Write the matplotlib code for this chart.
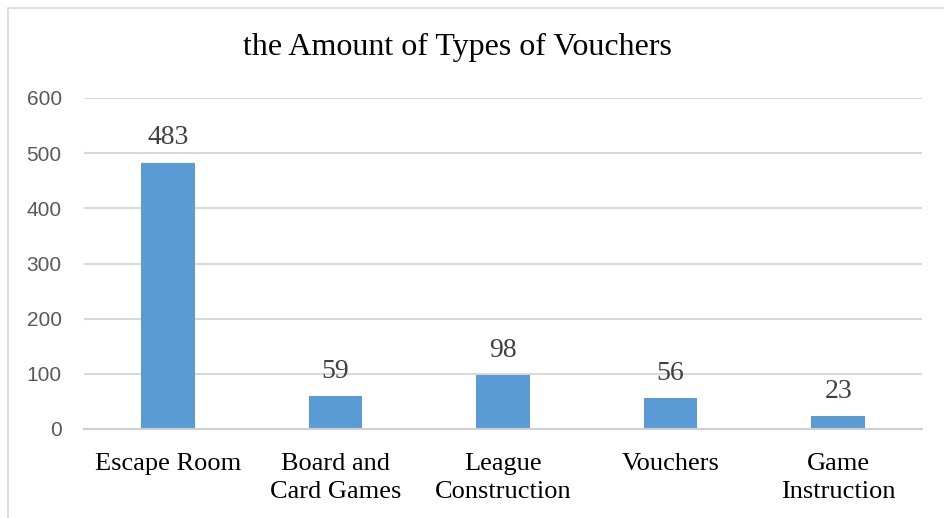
import numpy as np
import matplotlib.pyplot as plt
from matplotlib.patches import Rectangle

categories = ['Escape Room', 'Board and\nCard Games', 'League\nConstruction', 'Vouchers', 'Game\nInstruction']
amounts = [483, 59, 98, 56, 23]
y_ticks = [0, 100, 200, 300, 400, 500, 600]

W, H = 945, 518
fig = plt.figure(figsize=(W / 100, H / 100), dpi=100)
ax = fig.add_axes([84 / W, 1 - 429 / H, (922 - 84) / W, (429 - 98) / H])

x = np.arange(len(categories))
ax.bar(x, amounts, width=0.32, color='#5b9bd5', zorder=3)

for xi, v in zip(x, amounts):
    ax.text(xi, v + 22, str(v), ha='center', va='bottom', fontsize=20,
            family='Liberation Serif', color='#404040')

ax.set_xlim(-0.5, len(categories) - 0.5)
ax.set_ylim(0, 600)
ax.set_yticks(y_ticks)
ax.set_yticklabels([str(t) for t in y_ticks], family='Liberation Sans', fontsize=15, color='#595959')
ax.set_xticks(x)
ax.set_xticklabels(categories, family='Liberation Serif', fontsize=19, color='black', linespacing=1.38)
ax.tick_params(axis='both', length=0)
ax.tick_params(axis='y', pad=16)
ax.tick_params(axis='x', pad=17)

ax.grid(axis='y', color='#d9d9d9', linewidth=1.5, zorder=0)
for side in ['top', 'right', 'left']:
    ax.spines[side].set_visible(False)
ax.spines['bottom'].set_color('#d0d0d0')
ax.spines['bottom'].set_linewidth(1.5)
ax.spines['bottom'].set_zorder(4)

fig.text(457 / W, 1 - 47 / H, 'the Amount of Types of Vouchers', ha='center', va='center',
         fontsize=23, family='Liberation Serif', color='black')

# chart border (partly cropped in the original)
fig.patches.append(Rectangle((8 / W, -0.02), 1.0, 1 - 8 / H + 0.02, transform=fig.transFigure,
                             fill=False, edgecolor='#d9d9d9', linewidth=1.2))

fig.savefig('out.png', dpi=100)
